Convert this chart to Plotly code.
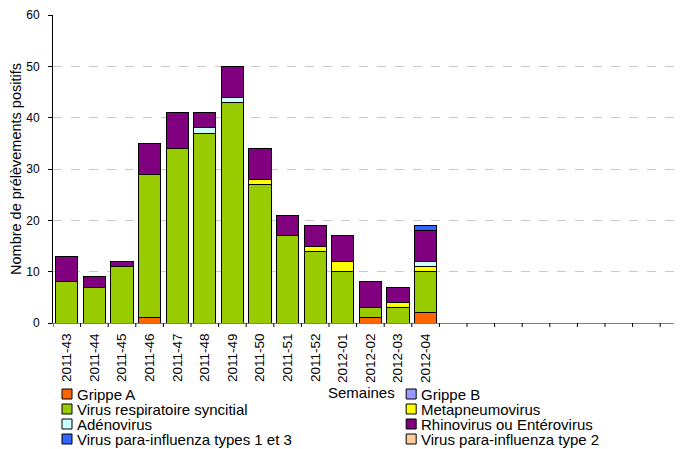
import plotly.graph_objects as go

# %% données
semaines = ["2011-43", "2011-44", "2011-45", "2011-46", "2011-47", "2011-48", "2011-49",
            "2011-50", "2011-51", "2011-52", "2012-01", "2012-02", "2012-03", "2012-04"]
nb_semaines_vides = 9

grippe_a = [0, 0, 0, 1, 0, 0, 0, 0, 0, 0, 0, 1, 0, 2]
grippe_b = [0, 0, 0, 0, 0, 0, 0, 0, 0, 0, 0, 0, 0, 0]
vrs = [8, 7, 11, 28, 34, 37, 43, 27, 17, 14, 10, 2, 3, 8]
metapneumo = [0, 0, 0, 0, 0, 0, 0, 1, 0, 1, 2, 0, 1, 1]
adeno = [0, 0, 0, 0, 0, 1, 1, 0, 0, 0, 0, 0, 0, 1]
rhino = [5, 2, 1, 6, 7, 3, 6, 6, 4, 4, 5, 5, 3, 6]
para_1_3 = [0, 0, 0, 0, 0, 0, 0, 0, 0, 0, 0, 0, 0, 1]
para_2 = [0, 0, 0, 0, 0, 0, 0, 0, 0, 0, 0, 0, 0, 0]

series = [
    ("Grippe A", grippe_a, "#FF6600"),
    ("Grippe B", grippe_b, "#9999FF"),
    ("Virus respiratoire syncitial", vrs, "#99CC00"),
    ("Metapneumovirus", metapneumo, "#FFFF00"),
    ("Adénovirus", adeno, "#CCFFFF"),
    ("Rhinovirus ou Entérovirus", rhino, "#800080"),
    ("Virus para-influenza types 1 et 3", para_1_3, "#3366FF"),
    ("Virus para-influenza type 2", para_2, "#FFCC99"),
]

# %% géométrie (pixels de l'image ; la page html décale tout de 8 px)
W, H = 682, 449
OFF = 8
L, T, B, R = 53 - OFF, 15 - OFF, H - (323 - OFF), W - (681.7 - OFF)
pw, ph = W - L - R, H - T - B
police = "Liberation Sans, Arial, sans-serif"


def px2paper(px, py):
    return (px - OFF - L) / pw, (H - B - (py - OFF)) / ph


# %% figure
x = list(range(len(semaines)))
fig = go.Figure()
for nom, valeurs, couleur in series:
    fig.add_trace(go.Bar(
        x=x, y=valeurs, name=nom, showlegend=False,
        marker=dict(color=couleur, line=dict(color="#000000", width=1)),
    ))

ticks = list(range(len(semaines) + nb_semaines_vides))
labels = semaines + [""] * nb_semaines_vides

fig.update_layout(
    width=W, height=H,
    barmode="stack", bargap=0.19,
    plot_bgcolor="white", paper_bgcolor="white",
    font=dict(family=police, size=12, color="#000000"),
    margin=dict(l=L, r=R, t=T, b=B, autoexpand=False),
    xaxis=dict(
        tickmode="array", tickvals=ticks, ticktext=labels,
        range=[-0.5, 22.29], tickangle=-90,
        showline=True, linecolor="#808080", linewidth=1,
        ticks="outside", ticklen=4, tickcolor="rgba(0,0,0,0)",
        showgrid=False, zeroline=False, automargin=False,
        tickfont=dict(size=13.5),
    ),
    yaxis=dict(
        range=[0, 60], dtick=10,
        showline=True, linecolor="#000000", linewidth=1,
        ticks="outside", ticklen=4, tickcolor="#000000",
        showgrid=True, gridcolor="#C8C8C8", griddash="dash", gridwidth=1,
        zeroline=False, automargin=False, ticklabelstandoff=6,
        title=dict(text="Nombre de prélèvements positifs", font=dict(size=14.5), standoff=4),
        tickfont=dict(size=12),
    ),
)

# séparateurs de catégories sur l'axe des x
for i in range(len(ticks) + 1):
    fig.add_shape(type="line", xref="x", yref="paper",
                  x0=i - 0.5, x1=i - 0.5, y0=0, y1=-4 / ph,
                  line=dict(color="#000000", width=1))

# légende sur deux colonnes
col_x = [62, 406]
row_y = [394, 409, 424, 439]
for k, (nom, valeurs, couleur) in enumerate(series):
    cx, cy = col_x[k % 2], row_y[k // 2]
    x0, y0 = px2paper(cx, cy + 5)
    x1, y1 = px2paper(cx + 10, cy - 5)
    fig.add_shape(type="rect", xref="paper", yref="paper",
                  x0=x0, x1=x1, y0=y0, y1=y1,
                  fillcolor=couleur, line=dict(color="#000000", width=1))
    tx, ty = px2paper(cx + 14, cy)
    fig.add_annotation(text=nom, xref="paper", yref="paper", x=tx, y=ty,
                       xanchor="left", yanchor="middle", showarrow=False,
                       font=dict(size=15), borderpad=0)

sx, sy = px2paper(361, 392)
fig.add_annotation(text="Semaines", xref="paper", yref="paper", x=sx, y=sy,
                   xanchor="center", yanchor="middle", showarrow=False,
                   font=dict(size=15), borderpad=0)

fig.write_html("out.html")
